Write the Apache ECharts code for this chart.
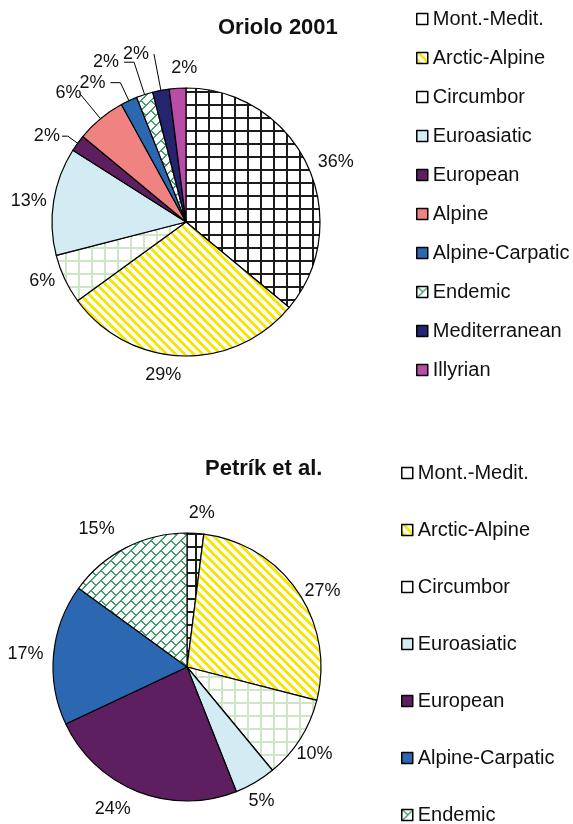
<!DOCTYPE html>
<html lang="en">
<head>
<meta charset="UTF-8">
<title>Oriolo 2001 / Petrík et al.</title>
<script src="https://cdn.jsdelivr.net/npm/echarts@6/dist/echarts.min.js"></script>
<style>html,body{margin:0;padding:0;background:#fff}</style>
</head>
<body>
<div id="container" style="width:573px;height:824px"></div>
<script type="text/javascript">
    // shares (%), clockwise from 12 o'clock
    var names1 = ['Mont.-Medit.', 'Arctic-Alpine', 'Circumbor', 'Euroasiatic', 'European',
                  'Alpine', 'Alpine-Carpatic', 'Endemic', 'Mediterranean', 'Illyrian'];
    var values1 = [36, 29, 6, 13, 2, 6, 2, 2, 2, 2];

    var names2 = ['Mont.-Medit.', 'Arctic-Alpine', 'Circumbor', 'Euroasiatic', 'European',
                  'Alpine-Carpatic', 'Endemic'];
    var values2 = [2, 27, 10, 5, 24, 17, 15];

    // label placement tweaks: leader line lengths, gap to text, alignment
    var len1 = [6, 19, 5, 2, 12, 33, 20, 34, 37, 20];
    var len1b = [0, 0, 0, 0, 6, 0, 10, 10, 0, 0];
    var dist1 = [5, 0, 5, 5, 2, -2, 5, 5, 5, 5];
    var line1 = [false, false, false, false, true, true, true, true, true, false];
    var align1 = [null, null, null, null, null, null, null, null, null, 'left'];

    var len2 = [20, 2, 29, 22, 19, 5, 21];
    var dist2 = [5, 5, 8, -5, 0, 5, 2];
    var align2 = ['center', null, 'right', 'center', null, null, null];

    var font = 'Liberation Sans, Arial, sans-serif';

    function mod(a, n) { return ((a % n) + n) % n; }

    // little pixel tiles for the hatched fills
    function tile(size, test, color) {
        var c = document.createElement('canvas');
        c.width = size; c.height = size;
        var ctx = c.getContext('2d');
        ctx.fillStyle = '#fff';
        ctx.fillRect(0, 0, size, size);
        ctx.fillStyle = color;
        for (var y = 0; y < size; y++) {
            for (var x = 0; x < size; x++) {
                if (test(x, y)) ctx.fillRect(x, y, 1, 1);
            }
        }
        return {image: c, repeat: 'repeat'};
    }

    var colors = {
        'Mont.-Medit.': tile(13, function (x, y) { return x < 2 || y < 2; }, '#1c1c1c'),
        'Arctic-Alpine': tile(9, function (x, y) { return mod(x - y, 9) < 4; }, '#f7e600'),
        'Circumbor': tile(13, function (x, y) { return x < 2 || y < 2; }, '#cde7c6'),
        'Euroasiatic': '#d3ecf3',
        'European': '#5e1f60',
        'Alpine': '#f08282',
        'Alpine-Carpatic': '#2b68b1',
        'Endemic': tile(20, function (x, y) {
            var u = x + y, r = Math.floor(u / 10);
            return mod(u, 10) < 2 || mod(x - y + 10 * r, 20) < 2;
        }, '#42a06e'),
        'Mediterranean': '#24246f',
        'Illyrian': '#b94ca6'
    };
    // legend swatches that show up plain white in the original
    var plainSwatch = {'Mont.-Medit.': '#fff', 'Circumbor': '#fff'};

    function buildData(names, values, len, lenB, dist, lines) {
        return names.map(function (n, i) {
            return {
                name: n,
                value: values[i],
                itemStyle: {color: colors[n]},
                label: {distanceToLabelLine: dist[i]},
                labelLine: {show: lines ? lines[i] : false, length: len[i], length2: lenB ? lenB[i] : 0}
            };
        });
    }

    function pie(center, data, aligns) {
        return {
            type: 'pie',
            center: center,
            radius: 134,
            startAngle: 90,
            clockwise: true,
            avoidLabelOverlap: false,
            silent: true,
            itemStyle: {borderColor: '#000', borderWidth: 1.2},
            label: {
                position: 'outside',
                formatter: '{c}%',
                fontSize: 18,
                fontFamily: font,
                color: '#111'
            },
            labelLine: {lineStyle: {color: '#000', width: 1}},
            labelLayout: function (p) {
                var a = aligns[p.dataIndex];
                return a ? {align: a} : {};
            },
            data: data
        };
    }

    function legend(names, top, left, gap) {
        return {
            orient: 'vertical',
            left: left,
            top: top,
            height: 400,
            padding: 0,
            icon: 'rect',
            itemWidth: 11,
            itemHeight: 11,
            itemGap: gap,
            selectedMode: false,
            itemStyle: {borderColor: '#000', borderWidth: 1.5},
            textStyle: {fontSize: 20, lineHeight: 20, color: '#111', fontFamily: font},
            data: names.map(function (n) {
                return plainSwatch[n] ? {name: n, itemStyle: {color: plainSwatch[n]}} : n;
            })
        };
    }

    var dom = document.getElementById('container');
    var myChart = echarts.init(dom);
    var option = {
        animation: false,
        backgroundColor: '#fff',
        title: [
            {text: 'Oriolo 2001', left: 218, top: 17, padding: 0,
             textStyle: {fontSize: 22, fontWeight: 'bold', color: '#111', fontFamily: font}},
            {text: 'Petrík et al.', left: 205, top: 458, padding: 0,
             textStyle: {fontSize: 22, fontWeight: 'bold', color: '#111', fontFamily: font}}
        ],
        legend: [
            legend(names1, 9, 416, 19),
            legend(names2, 463, 401, 37)
        ],
        series: [
            pie([186, 222], buildData(names1, values1, len1, len1b, dist1, line1), align1),
            pie([187, 667], buildData(names2, values2, len2, null, dist2, null), align2)
        ]
    };
    myChart.setOption(option, true);
</script>
</body>
</html>
